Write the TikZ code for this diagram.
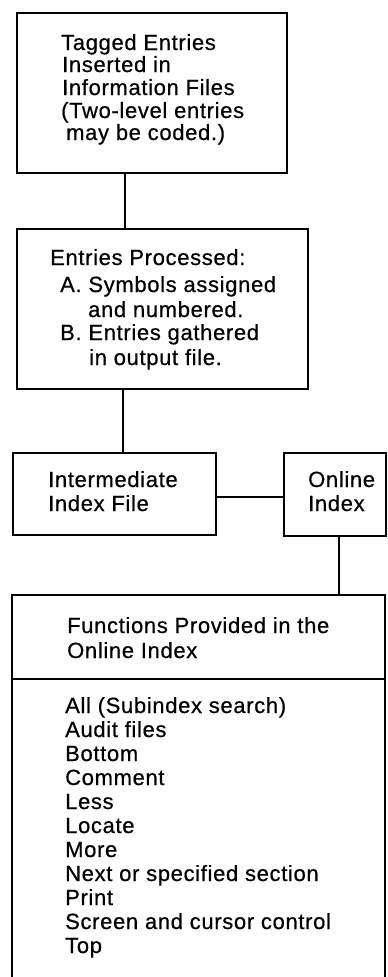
\documentclass[tikz,border=0pt]{standalone}
\usepackage{fontspec}
\setmainfont{Liberation Sans}[LetterSpace=3,FakeBold=0.6]
\begin{document}
\begin{tikzpicture}[x=1pt,y=-1pt,
  box/.style={draw, line width=1.6pt, inner sep=0pt},
  conn/.style={line width=1.6pt},
  txt/.style={anchor=base west, inner sep=0pt, font=\fontsize{22}{24}\selectfont}]
\useasboundingbox (0,0) rectangle (388,977);
% boxes
\node[box, minimum width=270pt, minimum height=160pt] (b1) at (152,93) {};
\node[box, minimum width=291pt, minimum height=160pt] (b2) at (162.5,309) {};
\node[box, minimum width=203pt, minimum height=82pt] (b3) at (114.5,494) {};
\node[box, minimum width=102pt, minimum height=83pt] (b4) at (335,494.5) {};
\node[box, minimum width=373pt, minimum height=400pt] (b5) at (198.5,795) {};
% helper coordinates
\coordinate (c1) at (125,0);
\coordinate (c2) at (123,0);
\coordinate (c3) at (0,497);
\coordinate (c4) at (339,0);
\coordinate (dv) at (0,679);
% connectors
\draw[conn] (b1.south -| c1) -- (b2.north -| c1);
\draw[conn] (b2.south -| c2) -- (b3.north -| c2);
\draw[conn] (b3.east |- c3) -- (b4.west |- c3);
\draw[conn] (b4.south -| c4) -- (b5.north -| c4);
\draw[conn] (b5.west |- dv) -- (b5.east |- dv);
% box 1 text
\node[txt] (t11) at (61,50) {Tagged Entries};
\node[txt] (t12) at (62,72) {Inserted in};
\node[txt] (t13) at (62,95) {Information Files};
\node[txt] (t14) at (61,118) {(Two-level entries};
\node[txt] (t15) at (66,140) {may be coded.)};
% box 2 text
\node[txt] (t21) at (50,265) {Entries Processed:};
\node[txt] (t22) at (60,292) {A. Symbols assigned};
\node[txt] (t23) at (88,317) {and numbered.};
\node[txt] (t24) at (60,340) {B. Entries gathered};
\node[txt] (t25) at (89,365) {in output file.};
% box 3 / 4 text
\node[txt] (t31) at (48,487) {Intermediate};
\node[txt] (t32) at (48,511) {Index File};
\node[txt] (t41) at (308,487) {Online};
\node[txt] (t42) at (308,511) {Index};
% box 5 text
\node[txt] (t51) at (67,633) {Functions Provided in the};
\node[txt] (t52) at (67,658) {Online Index};
\foreach \s [count=\i from 0] in {All (Subindex search),Audit files,Bottom,Comment,Less,Locate,More,Next or specified section,Print,Screen and cursor control,Top}
  \node[txt] (f\i) at (65,713+24*\i) {\s};
\end{tikzpicture}
\end{document}
